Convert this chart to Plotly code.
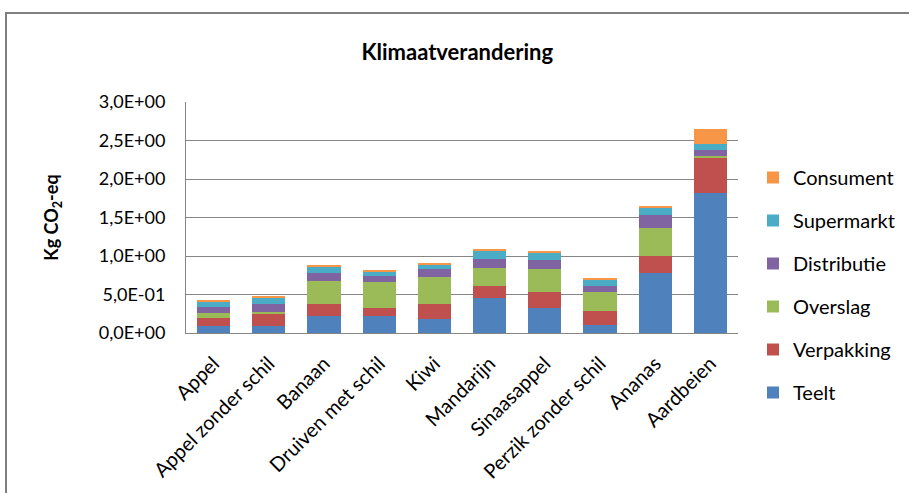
import plotly.graph_objects as go

categories = ["Appel", "Appel zonder schil", "Banaan", "Druiven met schil", "Kiwi",
              "Mandarijn", "Sinaasappel", "Perzik zonder schil", "Ananas", "Aardbeien"]

teelt       = [0.091, 0.091, 0.220, 0.220, 0.186, 0.459, 0.325, 0.104, 0.779, 1.818]
verpakking  = [0.108, 0.152, 0.152, 0.100, 0.186, 0.152, 0.203, 0.186, 0.216, 0.455]
overslag    = [0.060, 0.030, 0.303, 0.338, 0.350, 0.234, 0.299, 0.238, 0.368, 0.030]
distributie = [0.078, 0.100, 0.100, 0.078, 0.104, 0.117, 0.121, 0.082, 0.165, 0.078]
supermarkt  = [0.078, 0.087, 0.087, 0.069, 0.069, 0.104, 0.100, 0.087, 0.108, 0.078]
consument   = [0.008, 0.017, 0.017, 0.017, 0.017, 0.017, 0.017, 0.013, 0.017, 0.195]

series = [
    ("Teelt", teelt, "#4F81BD"),
    ("Verpakking", verpakking, "#C0504D"),
    ("Overslag", overslag, "#9BBB59"),
    ("Distributie", distributie, "#8064A2"),
    ("Supermarkt", supermarkt, "#4BACC6"),
    ("Consument", consument, "#F79646"),
]

y_ticks = [0, 0.5, 1.0, 1.5, 2.0, 2.5, 3.0]
y_tick_labels = ["0,0E+00", "5,0E-01", "1,0E+00", "1,5E+00", "2,0E+00", "2,5E+00", "3,0E+00"]

FONT = "Lato, 'Open Sans', sans-serif"

fig = go.Figure()
n = len(series)
for i, (name, vals, color) in enumerate(series):
    fig.add_trace(go.Bar(
        x=categories, y=vals, name=name, legendgroup=name,
        legendrank=n - i,
        marker=dict(color=color, line=dict(width=0)),
    ))

L, R, T, B = 186, 171, 102, 160
W, H = 909, 493
pw = W - L - R
ph = H - T - B

def px_x(p):
    return (p - L) / pw

def px_y(p):
    return (H - B - p) / ph

fig.update_layout(
    width=W, height=H,
    margin=dict(l=L, r=R, t=T, b=B, autoexpand=False),
    paper_bgcolor="white", plot_bgcolor="white",
    barmode="stack", bargap=0.4,
    font=dict(family=FONT, size=18, color="#000000"),
    title=dict(text="<b>Klimaatverandering</b>", x=0.503, xanchor="center",
               y=1 - 52 / H, yanchor="middle",
               font=dict(family=FONT, size=22, color="#000000")),
    xaxis=dict(tickangle=-45, showgrid=False, showline=True, linecolor="#868686",
               linewidth=1, ticks="", ticklabelstandoff=10, automargin=False,
               tickfont=dict(size=20, family=FONT)),
    yaxis=dict(range=[0, 3.0], tickvals=y_ticks, ticktext=y_tick_labels,
               showgrid=True, gridcolor="#868686", gridwidth=1,
               showline=True, linecolor="#868686", linewidth=1, ticks="",
               zeroline=False, tickfont=dict(size=18, family=FONT),
               ticklabelstandoff=16, automargin=False,
               title=dict(text="<b>Kg CO<sub>2</sub>-eq</b>", standoff=35,
                          font=dict(size=18, family=FONT))),
    legend=dict(x=px_x(753), xanchor="left", y=px_y(158), yanchor="top",
                traceorder="grouped", tracegroupgap=14, maxheight=480,
                font=dict(size=20, family=FONT), bgcolor="rgba(0,0,0,0)",
                itemwidth=30),
    showlegend=True,
)

fig.add_shape(type="rect", xref="paper", yref="paper",
              x0=px_x(6), x1=px_x(930), y0=px_y(520), y1=px_y(13),
              line=dict(color="#808080", width=2), fillcolor="rgba(0,0,0,0)",
              layer="below")

fig.write_html("out.html")
